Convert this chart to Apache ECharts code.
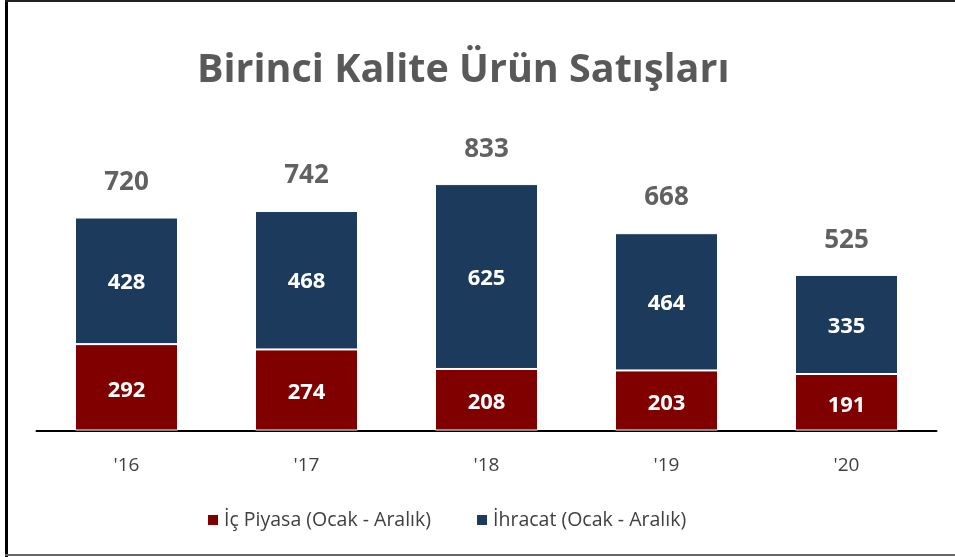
<!DOCTYPE html>
<html lang="tr">
<head>
    <meta charset="UTF-8">
    <title>Birinci Kalite Ürün Satışları</title>
    <script src="https://cdn.jsdelivr.net/npm/echarts@6/dist/echarts.min.js"></script>
    <style>
        body { margin: 0; background: #fff; }
        #main { width: 955px; height: 557px; }
    </style>
</head>
<body>
    <div id="main"></div>
    <script type="text/javascript">
        // values
        var years = ["'16", "'17", "'18", "'19", "'20"];
        var icPiyasa = [292, 274, 208, 203, 191];
        var ihracat = [428, 468, 625, 464, 335];
        var totals = [720, 742, 833, 668, 525];

        var font = '"Open Sans", sans-serif';
        var myChart = echarts.init(document.getElementById('main'));

        var option = {
            backgroundColor: '#fff',
            animation: false,
            title: {
                text: 'Birinci Kalite Ürün Satışları',
                left: 192,
                top: 46,
                textStyle: {
                    fontFamily: font,
                    fontSize: 39.5,
                    fontWeight: 'bold',
                    color: '#595959'
                }
            },
            graphic: [
                // frame around the picture (left, top, bottom only)
                { type: 'rect', shape: { x: 5, y: 0, width: 3, height: 557 }, style: { fill: '#000' } },
                { type: 'rect', shape: { x: 5, y: 0, width: 950, height: 2 }, style: { fill: '#222' } },
                { type: 'rect', shape: { x: 5, y: 554, width: 950, height: 2 }, style: { fill: '#666' } }
            ],
            legend: {
                data: ['İç Piyasa (Ocak - Aralık)', 'İhracat (Ocak - Aralık)'],
                left: 201,
                top: 505,
                icon: 'rect',
                itemWidth: 12,
                itemHeight: 12,
                itemGap: 44,
                textStyle: { fontFamily: font, fontSize: 19.5, color: '#404040' }
            },
            grid: {
                left: 36.5,
                right: 18.5,
                top: 134.7,
                bottom: 126.5
            },
            xAxis: {
                type: 'category',
                data: years,
                axisLine: { lineStyle: { color: '#000', width: 2 } },
                axisTick: { show: false },
                axisLabel: { fontFamily: font, fontSize: 19, color: '#404040', margin: 26 }
            },
            yAxis: {
                type: 'value',
                min: 0,
                max: 1000,
                show: false,
                splitLine: { show: false }
            },
            series: [
                {
                    name: 'İç Piyasa (Ocak - Aralık)',
                    type: 'bar',
                    stack: 'total',
                    barWidth: 103,
                    data: icPiyasa,
                    itemStyle: { color: '#800000', borderColor: '#fff', borderWidth: 1 },
                    label: {
                        show: true,
                        position: 'inside',
                        offset: [0, 3],
                        fontFamily: font,
                        fontSize: 22,
                        fontWeight: 'bold',
                        color: '#fff'
                    }
                },
                {
                    name: 'İhracat (Ocak - Aralık)',
                    type: 'bar',
                    stack: 'total',
                    barWidth: 103,
                    data: ihracat,
                    itemStyle: { color: '#1b3a5c', borderColor: '#fff', borderWidth: 1 },
                    label: {
                        show: true,
                        position: 'inside',
                        offset: [0, 2],
                        fontFamily: font,
                        fontSize: 22,
                        fontWeight: 'bold',
                        color: '#fff'
                    }
                },
                {
                    name: 'Toplam',
                    type: 'scatter',
                    data: totals,
                    symbolSize: 0,
                    silent: true,
                    label: {
                        show: true,
                        position: 'top',
                        distance: 22,
                        fontFamily: font,
                        fontSize: 26,
                        fontWeight: 'bold',
                        color: '#3a3a3a'
                    }
                }
            ]
        };

        myChart.setOption(option);
    </script>
</body>
</html>
